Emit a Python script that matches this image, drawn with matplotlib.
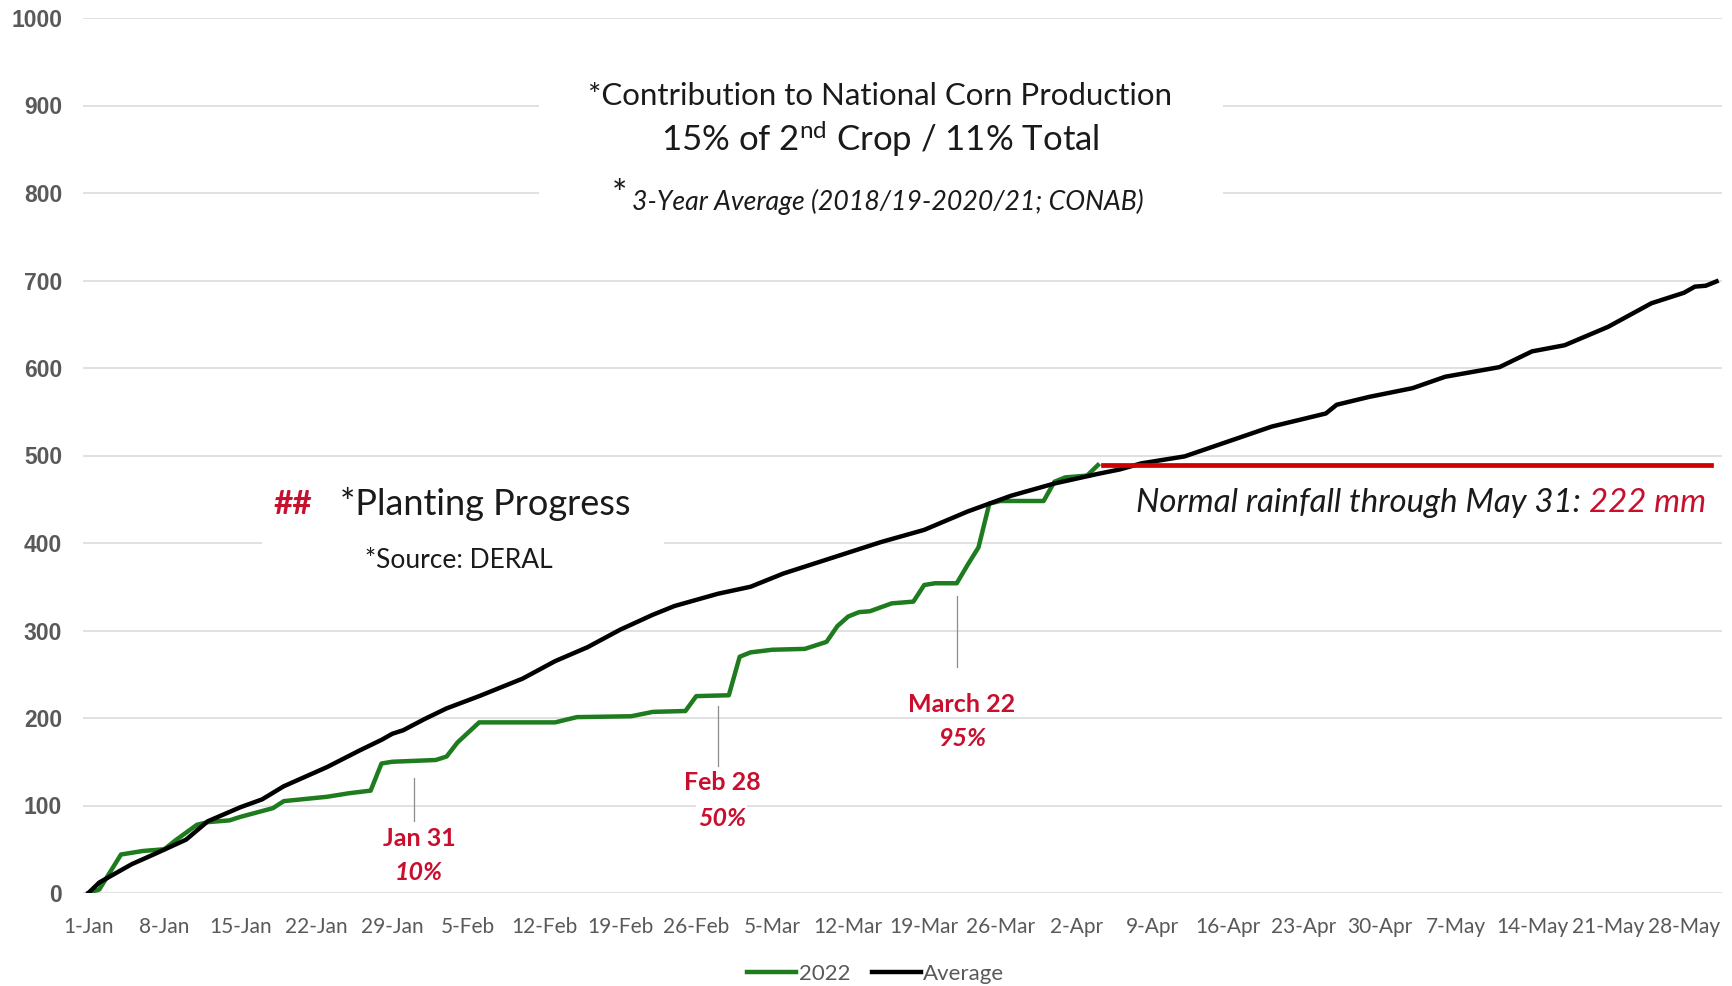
import matplotlib
matplotlib.use("Agg")
import matplotlib.pyplot as plt
from matplotlib.patches import Rectangle

# ---------------- data (x = days after 1-Jan) ----------------
green_day = [0, 1, 3, 5, 7, 8, 10, 11, 13, 14, 17, 18, 22, 24, 26, 27, 28, 32, 33, 34,
             36, 43, 45, 50, 52, 55, 56, 59, 60, 61, 63, 66, 68, 69, 70, 71, 72, 74, 76, 77,
             78, 80, 81, 82, 83, 84, 88, 89, 90, 92, 93]
green_val = [0, 4, 44, 48, 50, 60, 78, 81, 83, 87, 97, 105, 110, 114, 117, 148, 150, 152, 156, 172,
             195, 195, 201, 202, 207, 208, 225, 226, 270, 275, 278, 279, 287, 305, 316, 321, 322, 331, 333, 352,
             354, 354, 375, 395, 445, 448, 448, 470, 475, 477, 489]

avg_day = [0, 1, 4, 6, 9, 11, 14, 16, 18, 22, 25, 27, 28, 29, 31, 33, 36, 40, 43, 46,
           49, 52, 54, 58, 61, 64, 68, 73, 77, 81, 85, 89, 93, 95, 97, 101, 105, 109, 114, 115,
           118, 122, 125, 130, 133, 136, 140, 144, 147, 148, 149, 150]
avg_val = [0, 12, 33, 44, 61, 82, 98, 107, 122, 144, 163, 175, 182, 186, 199, 211, 225, 245, 265, 281,
           301, 318, 328, 342, 350, 365, 381, 401, 415, 436, 454, 468, 479, 484, 491, 499, 516, 533, 548, 558,
           567, 577, 590, 601, 619, 626, 647, 674, 686, 693, 694, 699]

rain_days = [93.5, 149.5]
rain_level = 489

tick_days = list(range(0, 151, 7))
tick_labels = ["1-Jan", "8-Jan", "15-Jan", "22-Jan", "29-Jan", "5-Feb", "12-Feb", "19-Feb",
               "26-Feb", "5-Mar", "12-Mar", "19-Mar", "26-Mar", "2-Apr", "9-Apr", "16-Apr",
               "23-Apr", "30-Apr", "7-May", "14-May", "21-May", "28-May"]
y_ticks = list(range(0, 1001, 100))

# progress annotations: (day, label, pct, line_top, line_bottom)
notes_day = [30, 58, 80]
notes_lbl = ["Jan 31", "Feb 28", "March 22"]
notes_pct = ["10%", "50%", "95%"]
notes_top = [132, 214, 340]
notes_bot = [82, 145, 258]

# ---------------- style ----------------
W, H = 1733, 986
RED = "#C8102E"
GREEN = "#1E7B1E"
GRAY = "#595959"
TXT = "#1a1a1a"
NARROW = ["Liberation Sans Narrow", "Lato", "DejaVu Sans"]
plt.rcParams["mathtext.fontset"] = "custom"
plt.rcParams["mathtext.rm"] = "Lato"
plt.rcParams["mathtext.it"] = "Lato:italic"
plt.rcParams["mathtext.bf"] = "Lato:bold"

fig = plt.figure(figsize=(W / 100, H / 100), dpi=100)
ax = fig.add_axes([83 / W, 1 - 893 / H, (1722 - 83) / W, (893 - 18) / H])
ax.set_xlim(-0.5, 150.5)
ax.set_ylim(0, 1000)
for s in ax.spines.values():
    s.set_visible(False)
ax.set_yticks(y_ticks)
ax.set_yticklabels([str(v) for v in y_ticks], fontsize=16.5, fontweight="bold",
                   color=GRAY, family=["Liberation Sans", "DejaVu Sans"])
ax.set_xticks(tick_days)
ax.set_xticklabels(tick_labels, fontsize=15, color=GRAY, family=NARROW)
ax.tick_params(axis="both", length=0)
ax.tick_params(axis="y", pad=15)
ax.tick_params(axis="x", pad=17)
ax.grid(axis="y", color="#DCDCDC", lw=1.2, zorder=0)
ax.set_axisbelow(True)

# white boxes that cover gridlines behind text blocks
ax.add_patch(Rectangle((41.5, 768), 63.0, 180, facecolor="white", edgecolor="none", zorder=1))
ax.add_patch(Rectangle((16.0, 380), 37.0, 40, facecolor="white", edgecolor="none", zorder=1))

ax.plot(green_day, green_val, color=GREEN, lw=3.2, label="2022", zorder=3, solid_joinstyle="round")
ax.plot(avg_day, avg_val, color="black", lw=3.2, label="Average", zorder=4, solid_joinstyle="round")
ax.plot(rain_days, [rain_level, rain_level], color="#D00000", lw=3.4, zorder=5)

for d, top, bot in zip(notes_day, notes_top, notes_bot):
    ax.plot([d, d], [bot, top], color="#8c8c8c", lw=0.9, zorder=2)

def fx(x, y):
    return (x / W, 1 - y / H)

# red labels
note_px = [(419, 838, 873), (722, 782, 818), (962, 704, 739)]
for (x, y1, y2), lbl, pct in zip(note_px, notes_lbl, notes_pct):
    fig.text(*fx(x, y1), lbl, ha="center", va="center", fontsize=18, fontweight="bold",
             color=RED, family="Lato",
             bbox=dict(facecolor="white", edgecolor="none", pad=1))
    fig.text(*fx(x, y2), pct, ha="center", va="center", fontsize=18, fontweight="bold",
             style="italic", color=RED, family="Lato",
             bbox=dict(facecolor="white", edgecolor="none", pad=1))

# top text block
fig.text(*fx(880, 96), "*Contribution to National Corn Production", ha="center", va="center",
         fontsize=22.5, color=TXT, family="Lato")
fig.text(*fx(880, 139), r"15% of 2$^{\mathrm{nd}}$ Crop / 11% Total", ha="center", va="center",
         fontsize=25, color=TXT, family="Lato")
fig.text(*fx(612, 195), "*", ha="left", va="center", fontsize=26, color=TXT, family="Lato")
fig.text(*fx(632, 202), "3-Year Average (2018/19-2020/21; CONAB)", ha="left", va="center",
         fontsize=19.2, style="italic", color=TXT, family="Lato")

# planting progress block
fig.text(*fx(293, 504), "##", ha="center", va="center", fontsize=24, fontweight="bold",
         color=RED, family="Lato")
fig.text(*fx(340, 504), "*Planting Progress", ha="left", va="center", fontsize=26,
         color=TXT, family="Lato")
fig.text(*fx(365, 560), "*Source: DERAL", ha="left", va="center", fontsize=19,
         color=TXT, family="Lato")

# rainfall text
t1 = fig.text(*fx(1136, 503), "Normal rainfall through May 31: ", ha="left", va="center",
              fontsize=23.8, style="italic", color=TXT, family="Lato")
ax.annotate("222 mm", xy=(1, 0.5), xycoords=t1, ha="left", va="center",
            fontsize=23.8, style="italic", color=RED, family="Lato", annotation_clip=False)

leg = ax.legend(loc="center", bbox_to_anchor=(876 / W, 12 / H), bbox_transform=fig.transFigure,
                ncol=2, frameon=False, handlelength=2.2, handletextpad=0.1, columnspacing=1.0,
                prop={"family": NARROW, "size": 16})
for t in leg.get_texts():
    t.set_color(GRAY)

fig.savefig("out.png", dpi=100, facecolor="white")
